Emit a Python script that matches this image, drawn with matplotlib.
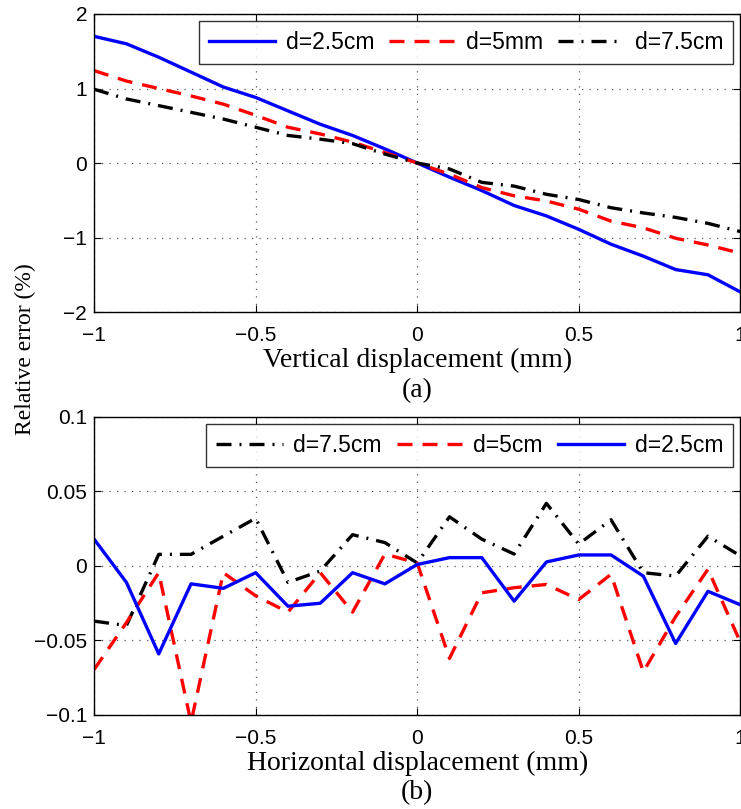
import numpy as np
import matplotlib
matplotlib.use('Agg')
from matplotlib import pyplot as plt
from matplotlib.ticker import FuncFormatter

# displacement steps (mm)
x = [-1.0, -0.9, -0.8, -0.7, -0.6, -0.5, -0.4, -0.3, -0.2, -0.1, 0.0,
     0.1, 0.2, 0.3, 0.4, 0.5, 0.6, 0.7, 0.8, 0.9, 1.0]

# (a) vertical displacement
vert_25 = [1.70, 1.60, 1.42, 1.22, 1.02, 0.88, 0.70, 0.52, 0.37, 0.19, 0.0,
           -0.19, -0.37, -0.57, -0.71, -0.89, -1.09, -1.25, -1.43, -1.50, -1.73]
vert_5 = [1.24, 1.10, 1.00, 0.90, 0.79, 0.64, 0.48, 0.39, 0.28, 0.14, 0.0,
          -0.15, -0.33, -0.44, -0.51, -0.62, -0.78, -0.87, -1.01, -1.10, -1.21]
vert_75 = [0.99, 0.86, 0.77, 0.68, 0.59, 0.48, 0.37, 0.32, 0.26, 0.12, 0.0,
           -0.08, -0.26, -0.31, -0.42, -0.49, -0.60, -0.67, -0.73, -0.81, -0.92]

# (b) horizontal displacement
hor_25 = [0.018, -0.011, -0.059, -0.012, -0.015, -0.0045, -0.027, -0.025, -0.0045, -0.012, 0.001,
          0.0056, 0.0056, -0.0236, 0.0027, 0.0074, 0.0074, -0.0068, -0.052, -0.017, -0.026]
hor_5 = [-0.0695, -0.038, -0.0045, -0.105, -0.0045, -0.020, -0.031, -0.0045, -0.031, 0.008, 0.002,
         -0.062, -0.018, -0.0146, -0.0124, -0.0225, -0.0056, -0.071, -0.034, -0.0022, -0.051]
hor_75 = [-0.037, -0.040, 0.0078, 0.0078, 0.020, 0.032, -0.011, -0.0034, 0.021, 0.0157, 0.002,
          0.033, 0.018, 0.008, 0.042, 0.0147, 0.031, -0.0045, -0.0068, 0.020, 0.0068]

xticks = [-1, -0.5, 0, 0.5, 1]
yticks_a = [-2, -1, 0, 1, 2]
yticks_b = [-0.1, -0.05, 0, 0.05, 0.1]

sans = 'Liberation Sans'
serif = 'Liberation Serif'
lw = 2.4
red_dash = (4.5, 3.0)
black_dashdot = (4.5, 2.4, 0.6, 2.4)

fmt = FuncFormatter(lambda v, p: ('%g' % v).replace('-', '\u2212'))


def style_axes(ax, yticks, ylim):
    ax.set_xlim(-1, 1)
    ax.set_ylim(*ylim)
    ax.set_xticks(xticks)
    ax.set_yticks(yticks)
    ax.xaxis.set_major_formatter(fmt)
    ax.yaxis.set_major_formatter(fmt)
    ax.tick_params(direction='in', top=True, right=True, length=5, width=0.8,
                   labelsize=15)
    ax.tick_params(axis='x', pad=10)
    ax.tick_params(axis='y', pad=5)
    for lab in ax.get_xticklabels() + ax.get_yticklabels():
        lab.set_fontfamily(sans)
    ax.grid(True, linestyle=(0, (1, 5)), color='0.35', linewidth=0.9)
    for s in ax.spines.values():
        s.set_linewidth(1.0)


def add_legend(ax):
    leg = ax.legend(loc='upper right', ncol=3, fancybox=False, edgecolor='black',
                    prop={'family': sans, 'size': 16.5}, handlelength=2.9,
                    columnspacing=0.65, handletextpad=0.45, borderaxespad=0.3,
                    borderpad=0.45)
    leg.get_frame().set_linewidth(1.0)


fig = plt.figure(figsize=(7.41, 8.09), dpi=100)

# (a)
ax1 = fig.add_axes([0.127, 0.6143, 0.872, 0.3684])
ax1.plot(x, vert_25, color='#0000ff', lw=lw, label='d=2.5cm')
ax1.plot(x, vert_5, color='#ff0000', lw=lw, dashes=red_dash, label='d=5mm')
ax1.plot(x, vert_75, color='black', lw=lw, dashes=black_dashdot, label='d=7.5cm')
style_axes(ax1, yticks_a, (-2, 2))
ax1.set_xlabel('Vertical displacement (mm)\n(a)', fontfamily=serif, fontsize=20,
               linespacing=1.3, labelpad=2)
add_legend(ax1)

# (b)
ax2 = fig.add_axes([0.127, 0.1162, 0.872, 0.3684])
ax2.plot(x, hor_75, color='black', lw=lw, dashes=black_dashdot, label='d=7.5cm')
ax2.plot(x, hor_5, color='#ff0000', lw=lw, dashes=red_dash, label='d=5cm')
ax2.plot(x, hor_25, color='#0000ff', lw=lw, label='d=2.5cm')
style_axes(ax2, yticks_b, (-0.1, 0.1))
ax2.set_xlabel('Horizontal displacement (mm)\n(b)', fontfamily=serif, fontsize=20,
               linespacing=1.2, labelpad=2)
add_legend(ax2)

fig.text(0.035, 1 - 349 / 809, 'Relative error (%)', rotation=90, va='center',
         ha='center', fontfamily=serif, fontsize=17)

fig.savefig('out.png', dpi=100)
